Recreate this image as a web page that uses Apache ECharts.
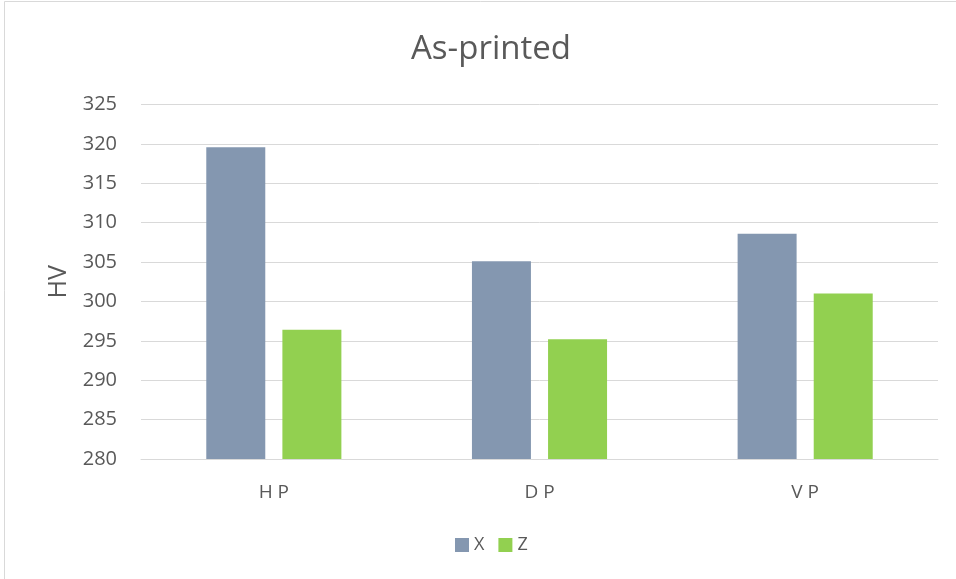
<!DOCTYPE html>
<html>
<head>
<meta charset="utf-8">
<script src="https://cdn.jsdelivr.net/npm/echarts@6/dist/echarts.min.js"></script>
<style>
  html, body { margin: 0; padding: 0; background: #fff; }
  #chart { width: 956px; height: 579px; }
</style>
</head>
<body>
<div id="chart"></div>
<script>
// Hardness by print orientation, as-printed
const categories = ['H P', 'D P', 'V P'];
const seriesX = [319.6, 305.1, 308.6];
const seriesZ = [296.4, 295.2, 301.0];
const yTicks = { min: 280, max: 325, interval: 5 };

const textColor = '#595959';
const fontFamily = '"Open Sans", "Liberation Sans", sans-serif';

const chart = echarts.init(document.getElementById('chart'), null, { renderer: 'canvas' });
chart.setOption({
  backgroundColor: '#fff',
  animation: false,
  textStyle: { fontFamily: fontFamily },
  graphic: [{
    type: 'rect',
    shape: { x: 4.5, y: 1.5, width: 960, height: 590 },
    style: { fill: 'none', stroke: '#d9d9d9', lineWidth: 1 },
    silent: true
  }],
  title: {
    text: 'As-printed',
    left: 406,
    top: 28,
    textStyle: { color: textColor, fontSize: 33, fontWeight: 'normal', fontFamily: fontFamily }
  },
  legend: {
    top: 531,
    left: 450,
    itemWidth: 14,
    itemHeight: 14,
    itemGap: 14,
    icon: 'rect',
    textStyle: { color: textColor, fontSize: 18, fontFamily: fontFamily },
    data: ['X', 'Z']
  },
  grid: { left: 141, right: 18, top: 104.6, bottom: 120, containLabel: false },
  xAxis: {
    type: 'category',
    data: categories,
    axisLine: { lineStyle: { color: '#d9d9d9', width: 1 } },
    axisTick: { show: false },
    axisLabel: { color: textColor, fontSize: 19, margin: 24, fontFamily: fontFamily }
  },
  yAxis: {
    type: 'value',
    min: yTicks.min,
    max: yTicks.max,
    interval: yTicks.interval,
    name: 'HV',
    nameLocation: 'middle',
    nameRotate: 90,
    nameGap: 70,
    nameTextStyle: { color: textColor, fontSize: 25, fontFamily: fontFamily },
    axisLine: { show: false },
    axisTick: { show: false },
    axisLabel: { color: textColor, fontSize: 20, margin: 24, fontFamily: fontFamily },
    splitLine: { lineStyle: { color: '#d9d9d9', width: 1 } }
  },
  series: [
    {
      name: 'X', type: 'bar', data: seriesX,
      barWidth: 59, barGap: '29%',
      itemStyle: { color: '#8497B0' }
    },
    {
      name: 'Z', type: 'bar', data: seriesZ,
      barWidth: 59,
      itemStyle: { color: '#92D050' }
    }
  ]
});
</script>
</body>
</html>
